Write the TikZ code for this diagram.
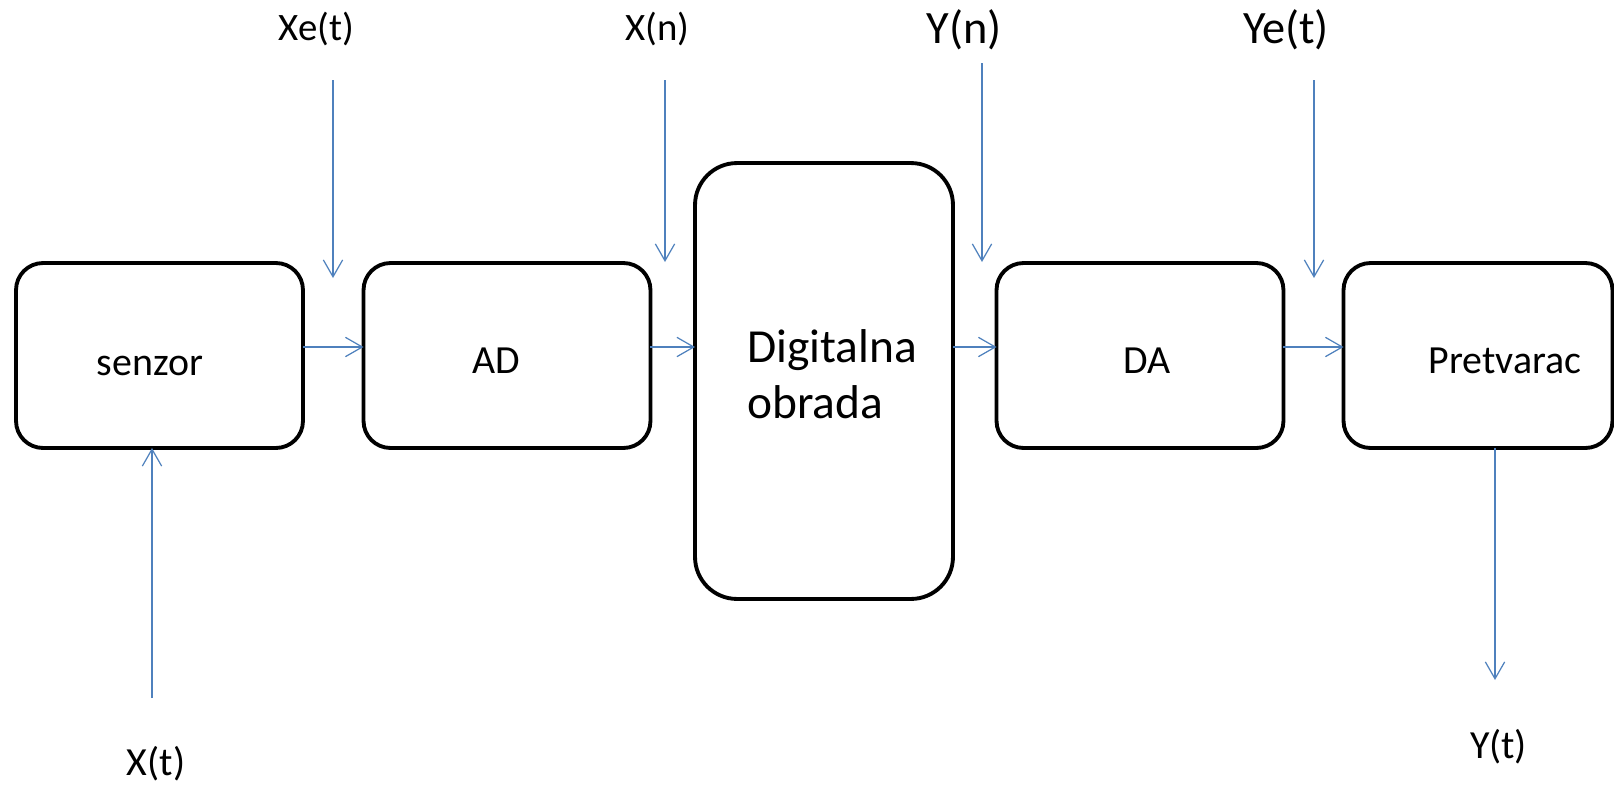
\documentclass[tikz,border=0pt]{standalone}
\usepackage{fontspec}
\setmainfont{Carlito}
\usetikzlibrary{arrows.meta}
\definecolor{sigblue}{RGB}{79,129,189}
\begin{document}
% one unit = one pixel (y grows downwards)
\begin{tikzpicture}[x=0.02cm,y=-0.02cm,
  block/.style={draw=black,line width=2.2pt,rectangle,inner sep=0pt,outer sep=0pt,
    rounded corners=0.54cm,minimum width=5.74cm,minimum height=3.7cm},
  bigblock/.style={block,rounded corners=0.84cm,minimum width=5.16cm,minimum height=8.72cm},
  sig/.style={draw=sigblue,line width=0.9pt,-{Straight Barb[length=9.6pt,width=11pt,line width=0.7pt]}},
  txt/.style={inner sep=0pt,font=\fontsize{22.7}{27}\selectfont},
  toptxt/.style={inner sep=0pt,font=\fontsize{22.1}{26}\selectfont},
  bigtxt/.style={inner sep=0pt,font=\fontsize{26.4}{31}\selectfont},
  digtxt/.style={inner sep=0pt,anchor=base west,font=\fontsize{27}{32}\selectfont}]
\useasboundingbox (0,0) rectangle (1614,785);

% processing chain
\node[block] (senzor) at (159.5,355.5) {};
\node[block] (ad) at (507,355.5) {};
\node[bigblock] (dig) at (824,381) {};
\node[block] (da) at (1140,355.5) {};
\node[block,minimum width=5.38cm] (pret) at (1478,355.5) {};

% block captions
\node[txt,anchor=base] (senzor-t) at (150,375) {senzor};
\node[txt,anchor=base] (ad-t) at (496.5,373) {AD};
\node[txt,anchor=base] (da-t) at (1147.5,373) {DA};
\node[txt,anchor=base] (pret-t) at (1505,373) {Pretvarac};
\node[digtxt] (dig-t1) at (747,362) {Digitalna};
\node[digtxt] (dig-t2) at (747,418) {obrada};

% signal names
\node[toptxt,anchor=base] (xe) at (316.5,40) {Xe(t)};
\node[toptxt,anchor=base] (xn) at (657.5,40) {X(n)};
\node[bigtxt,anchor=base] (yn) at (964.5,43) {Y(n)};
\node[bigtxt,anchor=base] (ye) at (1286,43) {Ye(t)};
\node[txt,anchor=base] (xt) at (156,775) {X(t)};
\node[txt,anchor=base] (yt) at (1498.5,758) {Y(t)};

% free ends of the signal arrows
\coordinate (flow) at (0,347);
\coordinate (xe-a) at (333,80);   \coordinate (xe-b) at (333,278);
\coordinate (xn-a) at (665,80);   \coordinate (xn-b) at (665,262);
\coordinate (yn-a) at (982,63);   \coordinate (yn-b) at (982,262);
\coordinate (ye-a) at (1314,80);  \coordinate (ye-b) at (1314,278);
\coordinate (xt-a) at (152,698);
\coordinate (yt-b) at (1495,680);

% vertical signal arrows
\draw[sig] (xe-a) -- (xe-b);
\draw[sig] (xn-a) -- (xn-b);
\draw[sig] (yn-a) -- (yn-b);
\draw[sig] (ye-a) -- (ye-b);
\draw[sig] (xt-a) -- (xt-a |- senzor.south);
\draw[sig] (yt-b |- pret.south) -- (yt-b);

% chain arrows
\draw[sig] (senzor.east |- flow) -- (ad.west |- flow);
\draw[sig] (ad.east |- flow) -- (dig.west |- flow);
\draw[sig] (dig.east |- flow) -- (da.west |- flow);
\draw[sig] (da.east |- flow) -- (pret.west |- flow);
\end{tikzpicture}
\end{document}
